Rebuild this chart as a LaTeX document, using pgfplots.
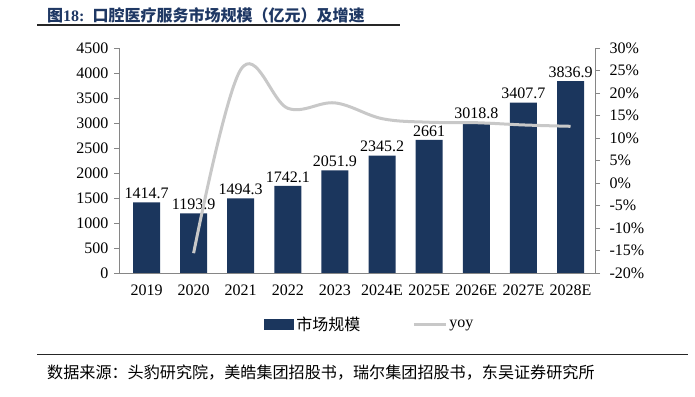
\documentclass[border=0pt]{standalone}
\usepackage{pgfplots}
\pgfplotsset{compat=1.18}
\usepackage{fontspec}
\setmainfont{Liberation Serif}
\newfontfamily\cjk{Noto Sans CJK SC}
\definecolor{barblue}{RGB}{27,54,93}
\definecolor{titleblue}{RGB}{31,56,100}
\definecolor{linegray}{RGB}{200,200,200}
\definecolor{axisgray}{RGB}{134,134,134}
\begin{document}
\begin{tikzpicture}[x=1pt,y=1pt]
\path[use as bounding box] (0,0) rectangle (695,396);
% title
\node[anchor=base west, text=titleblue, inner sep=0pt] at (47,374) {\fontsize{16}{18}\selectfont\bfseries{\cjk 图}18:\hspace{8pt}{\cjk 口腔医疗服务市场规模（亿元）及增速}};
\draw[line width=1.5pt, black!85] (37,371) -- (400,371);
% source
\draw[line width=1.5pt, black!85] (37,41.5) -- (688,41.5);
\node[anchor=base west, inner sep=0pt] at (47,18) {\fontsize{16.1}{18}\selectfont\cjk 数据来源：头豹研究院，美皓集团招股书，瑞尔集团招股书，东吴证券研究所};

\begin{axis}[
  at={(119pt,123pt)}, anchor=south west,
  scale only axis, width=476pt, height=225pt,
  xmin=-0.584, xmax=9.52,
  ymin=0, ymax=4500,
  ytick={0,500,...,4500},
  xtick={0,...,9},
  xticklabels={2019,2020,2021,2022,2023,2024E,2025E,2026E,2027E,2028E},
  axis x line*=bottom, axis y line*=left,
  x axis line style={axisgray, line width=0.8pt, -},
  y axis line style={axisgray, line width=0.8pt, -},
  major tick length=5pt,
  ytick style={axisgray, line width=0.8pt},
  xtick style={draw=none},
  tick align=outside,
  ticklabel style={font=\fontsize{16}{18}\selectfont, text=black},
  xticklabel style={yshift=-3pt},
  yticklabel style={xshift=-2pt},
  /pgf/number format/assume math mode=true,
  /pgf/number format/.cd, fixed, precision=1, 1000 sep={},
  /pgfplots/.cd,
  ybar, bar width=27pt,
  nodes near coords,
  every node near coord/.append style={font=\fontsize{16}{18}\selectfont, text=black, yshift=0pt},
  legend style={at={(0.527,-0.23)}, anchor=center, draw=none, fill=none,
    font=\fontsize{16}{18}\selectfont, legend columns=2,
    /tikz/every even column/.append style={column sep=50pt}},
  legend cell align=left,
]
\addplot[fill=barblue, draw=none,
  legend image code/.code={\fill[barblue] (0pt,-5.5pt) rectangle (30pt,5.5pt);}] coordinates {
(0,1414.7) (1,1193.9) (2,1494.3) (3,1742.1) (4,2051.9)
(5,2345.2) (6,2661) (7,3018.8) (8,3407.7) (9,3836.9)};
\addlegendentry{\cjk 市场规模}
\addlegendimage{linegray, line width=3pt,
  legend image code/.code={\draw[linegray, line width=3pt] (0pt,0pt) -- (32pt,0pt);}}
\addlegendentry{yoy}
\end{axis}

\begin{axis}[
  at={(119pt,123pt)}, anchor=south west,
  scale only axis, width=476pt, height=225pt,
  xmin=-0.584, xmax=9.52,
  ymin=-20, ymax=30,
  ytick={-20,-15,...,30},
  yticklabel={\pgfmathprintnumber{\tick}\%},
  axis y line*=right, axis x line=none,
  y axis line style={axisgray, line width=0.8pt, -},
  major tick length=5pt,
  ytick style={axisgray, line width=0.8pt},
  tick align=outside,
  ticklabel style={font=\fontsize{16}{18}\selectfont, text=black},
  yticklabel style={xshift=6pt},
  /pgf/number format/assume math mode=true,
]
\addplot[linegray, line width=3pt, smooth, tension=0.6, mark=none] coordinates {
(1,-15.6) (2,25.2) (3,16.6) (4,17.8) (5,14.3) (6,13.5) (7,13.4) (8,12.9) (9,12.6)};
\end{axis}
\end{tikzpicture}
\end{document}
